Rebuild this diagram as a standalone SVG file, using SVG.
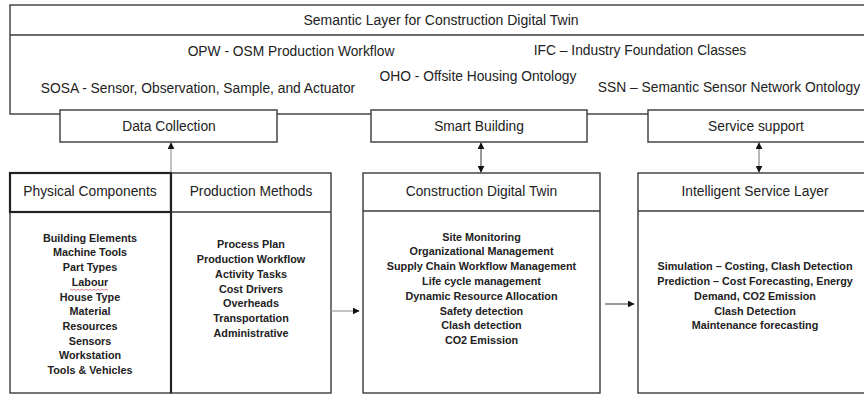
<svg xmlns="http://www.w3.org/2000/svg" width="864" height="396" viewBox="0 0 864 396">
<style>
  .box{fill:#fff;stroke:#3a3a3a;stroke-width:1.4}
  .thick{fill:none;stroke:#222;stroke-width:2.2}
  .t{font-family:"Liberation Sans",Arial,sans-serif;font-size:13.8px;fill:#222;text-anchor:middle}
  .h{font-family:"Liberation Sans",Arial,sans-serif;font-size:13.8px;fill:#222;text-anchor:middle}
  .b{font-family:"Liberation Sans",Arial,sans-serif;font-size:10.8px;font-weight:bold;fill:#222;text-anchor:middle}
  .conn{stroke:#555;stroke-width:1.2;fill:none}
</style>
<defs>
  <marker id="ah" viewBox="0 0 10 10" refX="9" refY="5" markerWidth="7" markerHeight="7" orient="auto-start-reverse" markerUnits="userSpaceOnUse">
    <path d="M0,0 L10,5 L0,10 Z" fill="#111"/>
  </marker>
</defs>
<rect width="864" height="396" fill="#fff"/>

<g id="semantic-layer">
  <rect class="box" x="10" y="5" width="862" height="109"/>
  <line class="box" x1="10" y1="35" x2="872" y2="35"/>
  <text class="t" x="441" y="25" style="font-size:14px">Semantic Layer for Construction Digital Twin</text>
  <text class="t" x="291" y="56">OPW - OSM Production Workflow</text>
  <text class="t" x="640" y="55">IFC – Industry Foundation Classes</text>
  <text class="t" x="478" y="81">OHO - Offsite Housing Ontology</text>
  <text class="t" x="198" y="93">SOSA - Sensor, Observation, Sample, and Actuator</text>
  <text class="t" x="729" y="92">SSN – Semantic Sensor Network Ontology</text>
</g>

<g id="data-collection">
  <rect class="box" x="60" y="110" width="217" height="32"/>
  <text class="t" x="169" y="131">Data Collection</text>
</g>
<g id="smart-building">
  <rect class="box" x="371" y="110" width="216" height="32"/>
  <text class="t" x="479" y="131">Smart Building</text>
</g>
<g id="service-support">
  <rect class="box" x="648" y="110" width="222" height="32"/>
  <text class="t" x="756" y="131">Service support</text>
</g>

<g id="physical-components">
  <rect class="box" x="10" y="173" width="161" height="220"/>
  <rect class="thick" x="10" y="173" width="161" height="39"/>
  <text class="h" x="90" y="196">Physical Components</text>
  <text class="b" x="90" y="241.5">Building Elements</text>
  <text class="b" x="90" y="255.5">Machine Tools</text>
  <text class="b" x="90" y="270.5">Part Types</text>
  <text class="b" x="90" y="285.5">Labour</text>
  <path d="M70,289 l2,1.5 l2,-1.5 l2,1.5 l2,-1.5 l2,1.5 l2,-1.5 l2,1.5 l2,-1.5 l2,1.5 l2,-1.5 l2,1.5 l2,-1.5 l2,1.5 l2,-1.5 l2,1.5 l2,-1.5 l2,1.5 l2,-1.5 l2,1.5" fill="none" stroke="#e0506a" stroke-width="0.7"/>
  <text class="b" x="90" y="300.5">House Type</text>
  <text class="b" x="90" y="315">Material</text>
  <text class="b" x="90" y="329.5">Resources</text>
  <text class="b" x="90" y="344.5">Sensors</text>
  <text class="b" x="90" y="359">Workstation</text>
  <text class="b" x="90" y="374">Tools &amp; Vehicles</text>
</g>

<g id="production-methods">
  <rect class="box" x="171" y="173" width="160" height="220"/>
  <line class="box" x1="171" y1="212" x2="331" y2="212"/>
  <line class="thick" x1="171" y1="173" x2="171" y2="393"/>
  <text class="h" x="251" y="196">Production Methods</text>
  <text class="b" x="251" y="248">Process Plan</text>
  <text class="b" x="251" y="263">Production Workflow</text>
  <text class="b" x="251" y="278">Activity Tasks</text>
  <text class="b" x="251" y="293">Cost Drivers</text>
  <text class="b" x="251" y="307">Overheads</text>
  <text class="b" x="251" y="321.5">Transportation</text>
  <text class="b" x="251" y="337">Administrative</text>
</g>

<g id="construction-digital-twin">
  <rect class="box" x="363" y="173" width="237" height="220"/>
  <line class="box" x1="363" y1="211" x2="600" y2="211"/>
  <text class="h" x="481.5" y="196">Construction Digital Twin</text>
  <text class="b" x="481.5" y="240.5">Site Monitoring</text>
  <text class="b" x="481.5" y="255">Organizational Management</text>
  <text class="b" x="481.5" y="270">Supply Chain Workflow Management</text>
  <text class="b" x="481.5" y="285">Life cycle management</text>
  <text class="b" x="481.5" y="300">Dynamic Resource Allocation</text>
  <text class="b" x="481.5" y="314.5">Safety detection</text>
  <text class="b" x="481.5" y="329">Clash detection</text>
  <text class="b" x="481.5" y="344">CO2 Emission</text>
</g>

<g id="intelligent-service-layer">
  <rect class="box" x="638" y="173" width="234" height="220"/>
  <line class="box" x1="638" y1="211" x2="872" y2="211"/>
  <text class="h" x="755" y="196">Intelligent Service Layer</text>
  <text class="b" x="755" y="270">Simulation – Costing, Clash Detection</text>
  <text class="b" x="755" y="285">Prediction – Cost Forecasting, Energy</text>
  <text class="b" x="755" y="300">Demand, CO2 Emission</text>
  <text class="b" x="755" y="314.5">Clash Detection</text>
  <text class="b" x="755" y="329">Maintenance forecasting</text>
</g>

<g id="connectors">
  <line class="conn" x1="171" y1="172" x2="171" y2="143" marker-end="url(#ah)" style="stroke:#999"/>
  <line class="conn" x1="481" y1="143" x2="481" y2="172" marker-start="url(#ah)" marker-end="url(#ah)"/>
  <line class="conn" x1="759" y1="143" x2="759" y2="172" marker-start="url(#ah)" marker-end="url(#ah)" style="stroke:#888"/>
  <line class="conn" x1="331" y1="311" x2="359" y2="311" marker-end="url(#ah)" style="stroke:#999"/>
  <line class="conn" x1="605" y1="304" x2="634" y2="304" marker-end="url(#ah)"/>
</g>
</svg>
